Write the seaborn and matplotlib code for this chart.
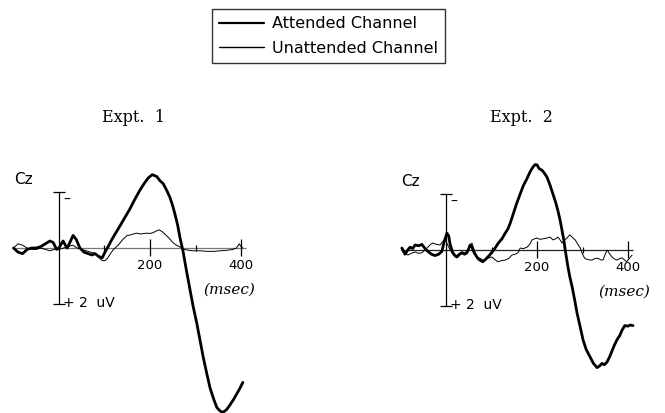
import matplotlib
matplotlib.use("Agg")
import matplotlib.pyplot as plt
import seaborn as sns
import pandas as pd

# ---- data (ms, uV; negative is plotted up) ----
e1_att_t = [-100, -90, -80, -70, -60, -50, -40, -30, -20, -13, -5, 0, 5, 9, 14, 18, 24, 31, 38, 46,
            55, 64, 72, 79, 87, 95, 101, 108, 116, 127, 138, 147, 156, 167, 178, 187, 196, 205,
            215, 222, 229, 237, 244, 250, 255, 261, 266, 273, 280, 288, 295, 303, 310, 317, 325,
            332, 340, 347, 354, 360, 368, 376, 384, 391, 398, 404]
e1_att_v = [0.0, 0.15, 0.2, 0.05, 0.0, 0.0, -0.05, -0.15, -0.25, -0.2, 0.05, 0.0, -0.15, -0.25, -0.1,
            0.0, -0.2, -0.45, -0.3, 0.0, 0.15, 0.2, 0.25, 0.2, 0.3, 0.35, 0.15, -0.05, -0.3, -0.6,
            -0.9, -1.15, -1.4, -1.75, -2.07, -2.3, -2.5, -2.62, -2.55, -2.4, -2.3, -2.05, -1.8, -1.5,
            -1.2, -0.8, -0.36, 0.15, 0.8, 1.5, 2.1, 2.7, 3.3, 3.9, 4.5, 5.0, 5.4, 5.7, 5.82, 5.87,
            5.78, 5.6, 5.4, 5.2, 5.0, 4.8]

e1_un_t = [-100, -90, -80, -70, -60, -50, -40, -30, -20, -10, 0, 10, 20, 30, 40, 50, 60, 70, 80, 88,
           95, 101, 107, 113, 120, 130, 140, 150, 156, 163, 171, 180, 187, 193, 200, 207, 213, 220,
           227, 235, 242, 250, 258, 266, 275, 285, 295, 310, 325, 340, 354, 370, 382, 390, 396, 400, 404]
e1_un_v = [0.0, -0.15, -0.1, 0.0, 0.05, 0.05, 0.0, 0.05, 0.1, 0.05, 0.05, 0.0, -0.05, -0.1, 0.0, 0.05,
           0.1, 0.15, 0.2, 0.35, 0.45, 0.45, 0.36, 0.2, 0.05, -0.1, -0.3, -0.45, -0.46, -0.5, -0.53,
           -0.5, -0.52, -0.53, -0.52, -0.55, -0.6, -0.65, -0.58, -0.46, -0.35, -0.2, -0.1, -0.04,
           0.05, 0.08, 0.1, 0.1, 0.12, 0.12, 0.1, 0.08, 0.05, 0.0, -0.15, -0.05, 0.0]

e2_att_t = [-97, -90, -84, -79, -73, -68, -60, -53, -46, -40, -32, -24, -16, -9, -4, 2, 6, 9, 15, 20,
            24, 30, 35, 41, 46, 50, 53, 57, 62, 70, 76, 81, 86, 92, 100, 108, 115, 123, 130, 136,
            141, 147, 155, 163, 170, 178, 185, 191, 196, 200, 205, 211, 216, 222, 229, 235, 241,
            246, 251, 255, 259, 262, 268, 272, 277, 283, 288, 295, 301, 308, 316, 324, 332, 337,
            343, 348, 354, 360, 365, 370, 376, 382, 387, 393, 400, 405, 411]
e2_att_v = [-0.07, 0.15, 0.0, -0.1, -0.05, -0.18, -0.15, -0.2, -0.05, 0.05, 0.15, 0.2, 0.15, 0.05,
            -0.3, -0.6, -0.5, -0.2, 0.1, 0.2, 0.25, 0.15, 0.1, 0.15, 0.1, -0.05, -0.18, -0.1, 0.1,
            0.3, 0.38, 0.42, 0.35, 0.25, 0.1, -0.07, -0.25, -0.4, -0.6, -0.75, -0.95, -1.25, -1.65,
            -2.0, -2.3, -2.55, -2.8, -2.96, -3.05, -3.04, -2.9, -2.85, -2.75, -2.6, -2.3, -2.0,
            -1.7, -1.4, -1.05, -0.7, -0.35, 0.0, 0.6, 0.95, 1.3, 1.8, 2.25, 2.75, 3.2, 3.55, 3.8,
            4.05, 4.2, 4.15, 4.05, 4.1, 4.0, 3.8, 3.6, 3.4, 3.2, 3.05, 2.86, 2.7, 2.72, 2.68, 2.7]

e2_un_t = [-97, -90, -84, -76, -68, -60, -53, -46, -40, -34, -29, -21, -13, -7, -2, 3, 9, 15, 20, 27,
           35, 41, 46, 52, 57, 62, 68, 75, 81, 90, 101, 108, 114, 122, 130, 138, 145, 152, 158, 163,
           170, 178, 184, 189, 195, 200, 206, 213, 220, 229, 235, 241, 246, 250, 255, 260, 266, 272,
           278, 284, 290, 295, 300, 305, 313, 321, 328, 334, 340, 345, 350, 354, 360, 365, 370, 376,
           382, 387, 392, 397, 403, 409]
e2_un_v = [0.0, 0.1, 0.18, 0.12, 0.07, 0.12, 0.1, 0.0, -0.1, -0.2, -0.25, -0.2, -0.18, -0.3, -0.4,
           -0.2, 0.0, 0.15, 0.25, 0.15, 0.07, 0.1, 0.05, -0.1, -0.25, 0.0, 0.25, 0.3, 0.36, 0.3, 0.25,
           0.35, 0.42, 0.38, 0.36, 0.3, 0.18, 0.15, 0.1, -0.07, -0.05, -0.1, -0.2, -0.36, -0.4, -0.43,
           -0.38, -0.4, -0.42, -0.46, -0.36, -0.4, -0.46, -0.38, -0.25, -0.35, -0.43, -0.54, -0.45,
           -0.36, -0.2, -0.07, 0.15, 0.3, 0.35, 0.36, 0.3, 0.3, 0.35, 0.36, 0.15, 0.0, 0.15, 0.25,
           0.32, 0.36, 0.3, 0.28, 0.35, 0.42, 0.3, 0.18]

titles = ["Expt.  1", "Expt.  2"]
labels = ["Attended Channel", "Unattended Channel"]

sns.set_style("white")
plt.rcParams["font.family"] = ["DejaVu Sans"]
plt.rcParams["text.color"] = "black"

W, H = 665, 413
fig = plt.figure(figsize=(6.65, 4.13), dpi=100)

SX, SY = 0.455, 28.0  # px per ms, px per uV

# panel layout in pixels: zero-time x, baseline y, axes x range, title centre
panels = [
    dict(x0=59, y0=248, xr=(0, 320), title_x=133, base_col="#777777", msec_t=318,
         att=(e1_att_t, e1_att_v), un=(e1_un_t, e1_un_v)),
    dict(x0=446, y0=250, xr=(345, 665), title_x=521, base_col="#222222", msec_t=334,
         att=(e2_att_t, e2_att_v), un=(e2_un_t, e2_un_v)),
]

axes = []
for i, p in enumerate(panels):
    top = 140
    ax = fig.add_axes([p["xr"][0] / W, 0, (p["xr"][1] - p["xr"][0]) / W, (H - top) / H])
    ax.set_xlim((p["xr"][0] - p["x0"]) / SX, (p["xr"][1] - p["x0"]) / SX)
    ax.set_ylim((H - p["y0"]) / SY, -(p["y0"] - top) / SY)
    ax.axis("off")

    # baseline and time ticks
    ax.hlines(0, -100, 410, color=p["base_col"], lw=0.9)
    ax.vlines([100, 300], -0.1, 0.1, color="black", lw=0.9)
    ax.vlines([200, 400], -0.32, 0.3, color="black", lw=0.9)
    # voltage scale bar
    ax.vlines(0, -2, 2, color="black", lw=0.9)
    ax.hlines([-2, 2], -13, 13, color="black", lw=0.9)

    d_att = pd.DataFrame({"t": p["att"][0], "v": p["att"][1]})
    d_un = pd.DataFrame({"t": p["un"][0], "v": p["un"][1]})
    sns.lineplot(data=d_att, x="t", y="v", ax=ax, color="black", lw=2.0,
                 estimator=None, sort=False, label=labels[0], legend=False)
    sns.lineplot(data=d_un, x="t", y="v", ax=ax, color="black", lw=0.7,
                 estimator=None, sort=False, label=labels[1], legend=False)

    ax.text(-78, -2.45, "Cz", fontsize=11, ha="center", va="center")
    ax.text(10, -1.72, "–", fontsize=10, ha="left", va="center")
    ax.text(8, 1.95, "+ 2  uV", fontsize=10, ha="left", va="center")
    ax.text(200, 0.62, "200", fontsize=9.5, ha="center", va="center")
    ax.text(400, 0.62, "400", fontsize=9.5, ha="center", va="center")
    ax.text(p["msec_t"], 1.5, "(msec)", fontsize=11, ha="left", va="center",
            family="DejaVu Serif", style="italic")
    fig.text(p["title_x"] / W, 1 - 117 / H, titles[i], fontsize=11.5, ha="center",
             va="center", family="DejaVu Serif")
    axes.append(ax)

handles = axes[0].get_lines()[-2:]
leg = fig.legend(handles, labels, loc="upper right", bbox_to_anchor=(445 / W, 1 - 9 / H),
                 frameon=True, fancybox=False, edgecolor="black", fontsize=11.5,
                 handlelength=2.8, handletextpad=0.5, borderpad=0.45, labelspacing=0.6,
                 borderaxespad=0)
leg.get_frame().set_linewidth(1.0)
for line, w in zip(leg.get_lines(), [1.6, 1.0]):
    line.set_linewidth(w)

fig.savefig("out.png", dpi=100)
